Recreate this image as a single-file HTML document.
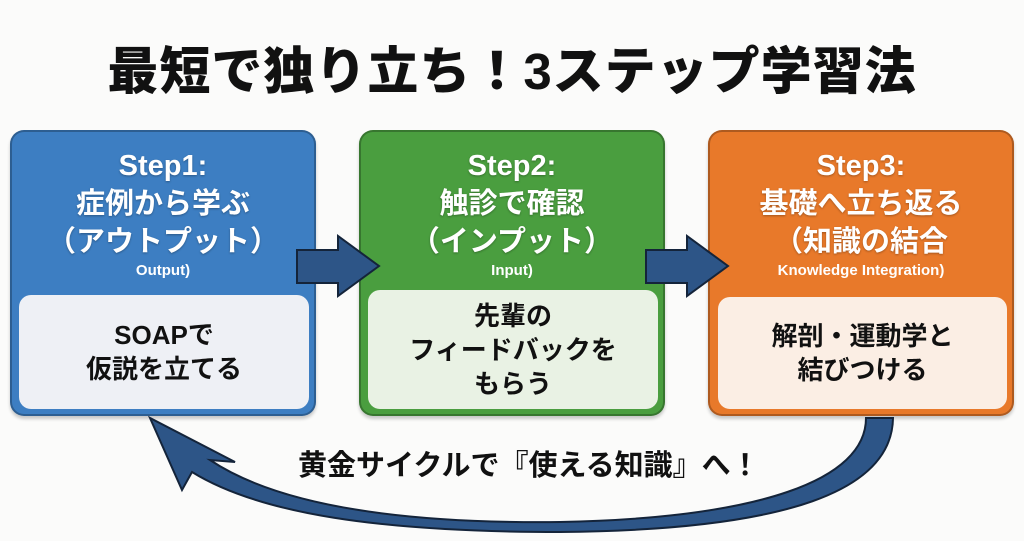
<!DOCTYPE html>
<html><head><meta charset="utf-8"><style>
body{margin:0;width:1024px;height:541px;background:#fbfbfa;position:relative;overflow:hidden;font-family:"Liberation Sans","Noto Sans CJK JP",sans-serif;}
.t{position:absolute;left:0;width:1024px;top:30px;text-align:center;font-size:51px;font-weight:900;color:#111;letter-spacing:1px;}
.box{position:absolute;top:130px;width:302px;height:282px;border-radius:14px;border:2px solid rgba(0,0,0,.25);box-shadow:0 3px 3px rgba(0,0,0,.2);color:#fff;text-align:center;}
.box .h{font-weight:700;font-size:29px;line-height:38px;margin-top:15px;text-shadow:0 1px 2px rgba(0,0,0,.3);}
.box .e{font-weight:700;font-size:15px;line-height:20px;}
.in{position:absolute;left:7px;right:5px;bottom:5px;border-radius:12px;color:#111;font-weight:700;font-size:26px;line-height:34px;display:flex;align-items:center;justify-content:center;}
.lab{position:absolute;left:298px;top:442px;font-size:29px;font-weight:700;color:#111;}
</style></head><body>
<div class="t">最短で独り立ち！3ステップ学習法</div>
<div class="box" style="left:10px;background:#3d7ec2;"><div class="h">Step1:<br>症例から学ぶ<br>（アウトプット）</div><div class="e">Output)</div>
<div class="in" style="top:163px;background:#eef0f5;">SOAPで<br>仮説を立てる</div></div>
<div class="box" style="left:359px;background:#4a9e3f;"><div class="h">Step2:<br>触診で確認<br>（インプット）</div><div class="e">Input)</div>
<div class="in" style="top:158px;background:#e9f2e4;">先輩の<br>フィードバックを<br>もらう</div></div>
<div class="box" style="left:708px;background:#e8792a;"><div class="h">Step3:<br>基礎へ立ち返る<br>（知識の結合</div><div class="e">Knowledge Integration)</div>
<div class="in" style="top:165px;left:8px;background:#fbeee4;">解剖・運動学と<br>結びつける</div></div>
<svg width="1024" height="541" style="position:absolute;left:0;top:0">
<g fill="#2d5587" stroke="#14243a" stroke-width="2">
<polygon points="297,250 338,250 338,236 379,266 338,296 338,283 297,283"/>
<polygon points="646,250 687,250 687,236 728,266 687,296 687,283 646,283"/>
<path d="M866,418 C866,480 760,518 560,522 C380,524 270,500 210,460 L235,462 L150,418 L182,490 L192,472 C260,514 380,532 560,532 C790,530 892,490 893,418 Z"/>
</g>
</svg>
<div class="lab">黄金サイクルで『使える知識』へ！</div>
</body></html>
